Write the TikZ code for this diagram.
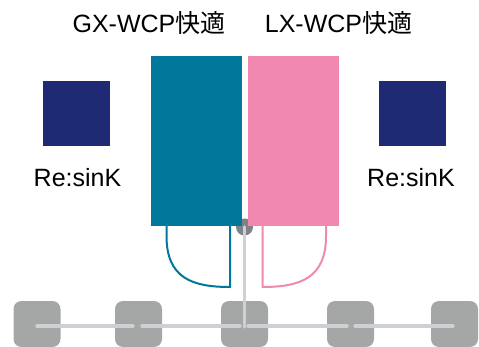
\documentclass[tikz,border=0pt]{standalone}
\usepackage{fontspec}
\setmainfont{Liberation Sans}
\newfontfamily\cjk{Noto Sans CJK JP}
\definecolor{tealc}{HTML}{00789C}
\definecolor{pinkc}{HTML}{F088B0}
\definecolor{navyc}{HTML}{1E2A74}
\definecolor{boxg}{HTML}{A5A6A6}
\definecolor{lineg}{HTML}{CDD1D5}
\definecolor{dotg}{HTML}{808285}
\tikzset{
  lbl/.style={anchor=base,inner sep=0pt,font=\fontsize{25}{30}\selectfont},
  bar/.style={draw=none,minimum width=91pt,minimum height=170pt,inner sep=0pt},
  sq/.style={fill=navyc,minimum width=67pt,minimum height=65pt,inner sep=0pt},
  gbox/.style={fill=boxg,rounded corners=8pt,minimum width=47pt,minimum height=46pt,inner sep=0pt},
  conn/.style={draw=lineg,line width=3.5pt,line cap=round},
  cup/.style={line width=2pt}
}
\begin{document}
\begin{tikzpicture}[x=1pt,y=-1pt]
\useasboundingbox (0,0) rectangle (479,347);
% circle behind bars
\node[circle,fill=dotg,minimum size=17pt,inner sep=0pt] (c) at (244.5,227) {};
% bars
\node[bar,fill=tealc] (t) at (196.5,141) {};
\node[bar,fill=pinkc] (p) at (293.5,141) {};
% titles
\node[lbl] (gt) at (149,33) {GX-WCP{\cjk 快適}};
\node[lbl] (lt) at (338.5,33) {LX-WCP{\cjk 快適}};
% squares
\node[sq] (s1) at (76.5,113.5) {};
\node[sq] (s2) at (412.5,113.5) {};
\node[lbl] (r1) at (77.5,187) {Re:sinK};
\node[lbl] (r2) at (411,187) {Re:sinK};
% cups
\draw[cup,tealc] (166.5,226) -- (166.5,236) .. controls (166.5,278) and (192,287) .. (230,287) -- (230,226);
\draw[cup,pinkc] (326,226) -- (326,236) .. controls (326,278) and (300.5,287) .. (262.5,287) -- (262.5,226);
% gray boxes
\node[gbox] (b1) at (37,324) {};
\node[gbox] (b2) at (138.5,324) {};
\node[gbox] (b3) at (244.5,324) {};
\node[gbox] (b4) at (350.5,324) {};
\node[gbox] (b5) at (454.5,324) {};
% connectors
\coordinate (j1) at (37,326);
\coordinate (j2) at (138.5,326);
\coordinate (j3) at (244.5,326);
\coordinate (j4) at (350.5,326);
\coordinate (j5) at (454.5,326);
\draw[conn] (c.center) -- ([yshift=-1pt]j3);
\draw[conn,shorten >=5.5pt] (j1) -- (j2);
\draw[conn,shorten <=3.5pt,shorten >=4.5pt] (j2) -- (j3);
\draw[conn,shorten <=3.5pt,shorten >=3.5pt] (j3) -- (j4);
\draw[conn,shorten <=4.5pt,shorten >=1.5pt] (j4) -- (j5);
\end{tikzpicture}
\end{document}
